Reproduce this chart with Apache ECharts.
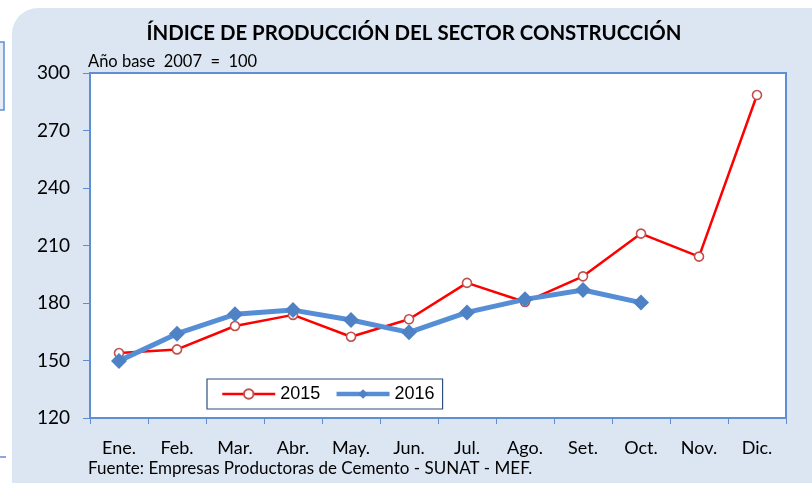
<!DOCTYPE html>
<html>
<head>
<meta charset="utf-8">
<script src="https://cdn.jsdelivr.net/npm/echarts@6/dist/echarts.min.js"></script>
<style>
html,body{margin:0;padding:0;background:#fff;}
#c{width:812px;height:483px;}
</style>
</head>
<body>
<div id="c"></div>
<script>
const months = ['Ene.', 'Feb.', 'Mar.', 'Abr.', 'May.', 'Jun.', 'Jul.', 'Ago.', 'Set.', 'Oct.', 'Nov.', 'Dic.'];
const values2015 = [153.9, 155.8, 168.0, 173.8, 162.4, 171.5, 190.5, 180.5, 193.9, 216.2, 204.2, 288.5];
const values2016 = [149.8, 164.0, 174.1, 176.3, 171.1, 164.7, 175.1, 181.9, 186.8, 180.2];
const seriesNames = ['2015', '2016'];
const titleText = 'ÍNDICE DE PRODUCCIÓN DEL SECTOR CONSTRUCCIÓN';
const baseNote = 'Año base  2007  =  100';
const sourceNote = 'Fuente: Empresas Productoras de Cemento - SUNAT - MEF.';
const boxLines = ['Var. % Octubre', '2016/2015', '-16,51 %'];

const calib = 'Lato, "Open Sans", sans-serif';
const arial = '"Liberation Sans", Arial, sans-serif';
const axisBlue = '#5f8fd3';

const chart = echarts.init(document.getElementById('c'), null, {renderer: 'canvas'});
chart.setOption({
  animation: false,
  backgroundColor: '#ffffff',
  title: {
    text: titleText,
    left: 409, top: 18, textAlign: 'center',
    textStyle: {fontFamily: calib, fontWeight: 'bold', fontSize: 20.4, color: '#000'}
  },
  grid: {
    left: 90, top: 73, right: 26, bottom: 65,
    show: true, backgroundColor: '#ffffff', borderColor: axisBlue, borderWidth: 2, z: 1
  },
  legend: {
    left: 207, top: 379,
    padding: [6, 8, 6, 14],
    itemGap: 14,
    itemWidth: 53, itemHeight: 12,
    borderColor: '#2f4f7f', borderWidth: 1.2, backgroundColor: '#fff',
    textStyle: {fontFamily: arial, fontSize: 18, color: '#000'},
    data: [
      {name: seriesNames[0], lineStyle: {width: 2.5}},
      {name: seriesNames[1], lineStyle: {width: 4.5}}
    ]
  },
  xAxis: {
    type: 'category', data: months, boundaryGap: true,
    axisLine: {show: true, lineStyle: {color: axisBlue, width: 2}},
    axisTick: {show: true, length: 6, inside: false, alignWithLabel: false, lineStyle: {color: axisBlue, width: 1}},
    axisLabel: {margin: 21, fontFamily: calib, fontSize: 18, color: '#000'},
    splitLine: {show: false}
  },
  yAxis: {
    type: 'value', min: 120, max: 300, interval: 30,
    axisLine: {show: true, lineStyle: {color: axisBlue, width: 2}},
    axisTick: {show: true, length: 7, lineStyle: {color: axisBlue, width: 1}},
    axisLabel: {margin: 20, fontFamily: calib, fontSize: 19, color: '#000'},
    splitLine: {show: false}
  },
  series: [
    {
      name: seriesNames[0], type: 'line', data: values2015,
      symbol: 'circle', symbolSize: 9, showAllSymbol: true,
      lineStyle: {color: '#ff0000', width: 2.5},
      itemStyle: {color: '#ffffff', borderColor: '#c0504d', borderWidth: 1.6},
      z: 3
    },
    {
      name: seriesNames[1], type: 'line', data: values2016,
      symbol: 'diamond', symbolSize: 16, showAllSymbol: true,
      lineStyle: {color: '#558ed5', width: 5},
      itemStyle: {color: '#4f82c4', borderColor: '#4f82c4', borderWidth: 0},
      z: 4
    }
  ],
  graphic: [
    {type: 'rect', z: -10, shape: {x: 12, y: 8, width: 830, height: 500, r: 26}, style: {fill: '#dce6f2'}, silent: true},
    {type: 'rect', z: -10, shape: {x: -10, y: 42, width: 14, height: 68}, style: {fill: '#e6edf7', stroke: '#5f8fd3', lineWidth: 1.5}},
    {type: 'line', z: -10, shape: {x1: 0, y1: 457, x2: 6, y2: 457}, style: {stroke: '#5f8fd3', lineWidth: 1.5}},
    {type: 'text', left: 88, top: 53, z: 10, style: {text: baseNote, font: '16.5px ' + calib, fill: '#000'}},
    {type: 'text', left: 88, top: 460, z: 10, style: {text: sourceNote, font: '17px ' + calib, fill: '#000'}},
    {type: 'group', z: 10, children: [
      {type: 'rect', shape: {x: 407, y: 103.5, width: 156, height: 83}, style: {fill: '#fff', stroke: '#2f528f', lineWidth: 2}},
      {type: 'text', x: 485, y: 120, style: {text: boxLines[0], font: '16px ' + arial, fill: '#000', align: 'center', verticalAlign: 'middle'}},
      {type: 'line', shape: {x1: 430.5, y1: 127, x2: 539.5, y2: 127}, style: {stroke: '#000', lineWidth: 1}},
      {type: 'text', x: 485, y: 142.5, style: {text: boxLines[1], font: '16px ' + arial, fill: '#000', align: 'center', verticalAlign: 'middle'}},
      {type: 'text', x: 485, y: 166, style: {text: boxLines[2], font: 'bold 21px ' + arial, fill: '#000', align: 'center', verticalAlign: 'middle'}}
    ]}
  ]
});
</script>
</body>
</html>
